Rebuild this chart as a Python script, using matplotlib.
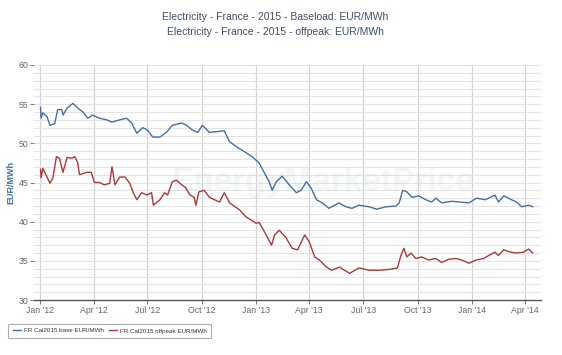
import numpy as np
import pandas as pd
import matplotlib
matplotlib.use("Agg")
import matplotlib.pyplot as plt

plt.rcParams['font.family'] = ['Liberation Sans', 'DejaVu Sans']

# FR Cal2015 base EUR/MWh
base_dates = [
    "2012-01-02", "2012-01-03", "2012-01-06", "2012-01-13", "2012-01-18", "2012-01-26",
    "2012-01-31", "2012-02-07", "2012-02-09", "2012-02-16", "2012-02-26", "2012-03-05",
    "2012-03-14", "2012-03-22", "2012-03-30", "2012-04-11", "2012-04-23", "2012-05-02",
    "2012-05-15", "2012-05-27", "2012-06-04", "2012-06-13", "2012-06-23", "2012-07-01",
    "2012-07-10", "2012-07-22", "2012-08-02", "2012-08-12", "2012-08-28", "2012-09-05",
    "2012-09-15", "2012-09-24", "2012-10-02", "2012-10-14", "2012-11-08", "2012-11-17",
    "2012-11-28", "2012-12-15", "2012-12-25", "2013-01-06", "2013-01-15", "2013-01-23",
    "2013-01-28", "2013-02-04", "2013-02-14", "2013-02-26", "2013-03-10", "2013-03-18",
    "2013-03-27", "2013-04-04", "2013-04-13", "2013-04-23", "2013-05-04", "2013-05-21",
    "2013-06-02", "2013-06-12", "2013-06-24", "2013-07-11", "2013-07-24", "2013-08-09",
    "2013-08-26", "2013-08-31", "2013-09-06", "2013-09-13", "2013-09-22", "2013-10-03",
    "2013-10-15", "2013-10-25", "2013-11-01", "2013-11-11", "2013-11-28", "2013-12-13",
    "2013-12-27", "2014-01-09", "2014-01-24", "2014-02-09", "2014-02-15", "2014-02-24",
    "2014-03-09", "2014-03-18", "2014-03-26", "2014-04-07", "2014-04-14",
]
base_values = [
    54.6, 53.2, 53.9, 53.4, 52.3, 52.5,
    54.3, 54.3, 53.6, 54.5, 55.1, 54.5,
    54.0, 53.2, 53.6, 53.2, 53.0, 52.7,
    53.0, 53.2, 52.6, 51.3, 52.0, 51.7,
    50.8, 50.8, 51.4, 52.3, 52.6, 52.3,
    51.7, 51.4, 52.3, 51.4, 51.6, 50.2,
    49.6, 48.8, 48.3, 47.5, 46.2, 45.1,
    44.0, 45.1, 45.8, 44.7, 43.7, 44.0,
    45.1, 44.3, 42.8, 42.4, 41.7, 42.4,
    41.9, 41.7, 42.1, 41.9, 41.6, 41.9,
    42.0, 42.4, 44.0, 43.8, 43.1, 43.3,
    42.8, 42.5, 43.0, 42.4, 42.6, 42.5,
    42.4, 43.0, 42.8, 43.4, 42.5, 43.3,
    42.8, 42.5, 41.9, 42.1, 41.9,
]

# FR Cal2015 offpeak EUR/MWh
offpeak_dates = [
    "2012-01-02", "2012-01-03", "2012-01-06", "2012-01-13", "2012-01-18", "2012-01-23",
    "2012-01-29", "2012-02-03", "2012-02-09", "2012-02-16", "2012-02-24", "2012-02-29",
    "2012-03-05", "2012-03-08", "2012-03-20", "2012-03-28", "2012-04-02", "2012-04-11",
    "2012-04-19", "2012-04-28", "2012-05-02", "2012-05-07", "2012-05-15", "2012-05-24",
    "2012-06-01", "2012-06-07", "2012-06-13", "2012-06-21", "2012-06-30", "2012-07-08",
    "2012-07-11", "2012-07-22", "2012-07-30", "2012-08-04", "2012-08-12", "2012-08-19",
    "2012-08-28", "2012-09-03", "2012-09-11", "2012-09-18", "2012-09-21", "2012-09-26",
    "2012-10-05", "2012-10-14", "2012-10-31", "2012-11-08", "2012-11-17", "2012-12-04",
    "2012-12-15", "2013-01-01", "2013-01-06", "2013-01-18", "2013-01-27", "2013-02-01",
    "2013-02-09", "2013-02-20", "2013-03-03", "2013-03-12", "2013-03-24", "2013-04-01",
    "2013-04-10", "2013-04-18", "2013-04-30", "2013-05-09", "2013-05-22", "2013-06-08",
    "2013-06-24", "2013-07-11", "2013-07-28", "2013-08-14", "2013-08-28", "2013-09-03",
    "2013-09-08", "2013-09-13", "2013-09-20", "2013-09-28", "2013-10-08", "2013-10-20",
    "2013-11-01", "2013-11-11", "2013-11-23", "2013-12-05", "2013-12-15", "2013-12-27",
    "2014-01-08", "2014-01-21", "2014-01-30", "2014-02-09", "2014-02-15", "2014-02-24",
    "2014-03-08", "2014-03-18", "2014-03-29", "2014-04-07", "2014-04-14",
]
offpeak_values = [
    46.7, 45.6, 46.8, 45.7, 44.9, 45.6,
    48.3, 48.1, 46.3, 48.2, 48.1, 48.3,
    47.5, 46.0, 46.3, 46.3, 45.0, 45.0,
    44.7, 44.9, 47.0, 44.7, 45.7, 45.7,
    44.9, 43.7, 42.8, 43.7, 43.4, 43.7,
    42.1, 42.8, 43.7, 43.4, 45.1, 45.3,
    44.7, 44.4, 43.4, 43.1, 42.1, 43.8,
    44.0, 43.1, 42.5, 43.7, 42.4, 41.5,
    40.6, 39.8, 39.9, 38.3, 37.0, 38.3,
    38.9, 38.0, 36.6, 36.4, 38.3, 37.4,
    35.5, 35.1, 34.2, 33.8, 34.2, 33.4,
    34.1, 33.8, 33.8, 33.9, 34.1, 35.7,
    36.6, 35.5, 36.0, 35.3, 35.5, 35.1,
    35.3, 34.8, 35.2, 35.3, 35.1, 34.7,
    35.1, 35.3, 35.7, 36.1, 35.7, 36.4,
    36.1, 36.0, 36.1, 36.5, 36.0,
]

tick_dates = ["2012-01-01", "2012-04-01", "2012-07-01", "2012-10-01", "2013-01-01",
              "2013-04-01", "2013-07-01", "2013-10-01", "2014-01-01", "2014-04-01"]
tick_labels = ["Jan '12", "Apr '12", "Jul '12", "Oct '12", "Jan '13",
               "Apr '13", "Jul '13", "Oct '13", "Jan '14", "Apr '14"]

blue = "#4170a8"
red = "#a83a3a"

fig = plt.figure(figsize=(5.62, 3.55), dpi=100)
ax = fig.add_axes([34 / 562, 1 - 300 / 355, (541 - 34) / 562, (300 - 65) / 355])

bx = pd.to_datetime(base_dates)
ox = pd.to_datetime(offpeak_dates)
ax.plot(bx, base_values, color=blue, lw=1.0, label="FR Cal2015 base EUR/MWh", zorder=3)
ax.plot(ox, offpeak_values, color=red, lw=1.0, label="FR Cal2015 offpeak EUR/MWh", zorder=3)

ax.set_xlim(pd.Timestamp("2011-12-22"), pd.Timestamp("2014-04-28"))
ax.set_ylim(30, 60)

ax.set_xticks(pd.to_datetime(tick_dates))
ax.set_xticklabels(tick_labels)
ax.set_yticks(np.arange(30, 61, 5))
ax.set_yticks(np.arange(30, 61, 1), minor=True)

ax.grid(axis='y', which='both', color='#e4e4e4', lw=0.8)
ax.grid(axis='x', which='major', color='#d4d4d4', lw=0.9)
ax.set_axisbelow(True)

for s in ['top', 'right', 'left']:
    ax.spines[s].set_visible(False)
ax.spines['bottom'].set_color('#555555')
ax.spines['bottom'].set_linewidth(1.0)

ax.tick_params(axis='x', labelsize=6.3, colors='#666666', length=3, width=0.6, pad=1)
ax.tick_params(axis='y', which='major', labelsize=6.3, colors='#666666', length=3, width=0.6, pad=1)
ax.tick_params(axis='y', which='minor', length=0)
for lab in ax.get_xticklabels() + ax.get_yticklabels():
    lab.set_color('#666666')

ax.set_ylabel("EUR/MWh", color=blue, fontsize=6.5, fontweight='bold', labelpad=2)

# watermark
ax.text(0.57, 0.5, "EnergyMarketPrice", transform=ax.transAxes, fontsize=24,
        fontweight='bold', color='#b8c8cc', alpha=0.16, ha='center', va='center',
        zorder=1)

fig.text(0.49, 0.953, "Electricity - France - 2015 - Baseload: EUR/MWh",
         ha='center', va='center', fontsize=7.5, color='#3d4f66')
fig.text(0.49, 0.91, "Electricity - France - 2015 - offpeak: EUR/MWh",
         ha='center', va='center', fontsize=7.5, color='#3d4f66')

leg = fig.legend(loc='lower left', bbox_to_anchor=(5 / 562, 14 / 355), ncol=2,
                 fontsize=4.5, frameon=True, fancybox=True, handlelength=1.4,
                 columnspacing=0.8, handletextpad=0.4, borderpad=0.7)
leg.get_frame().set_edgecolor('#999999')
leg.get_frame().set_linewidth(0.8)
for t in leg.get_texts():
    t.set_color('#333333')

fig.savefig("out.png", dpi=100)
